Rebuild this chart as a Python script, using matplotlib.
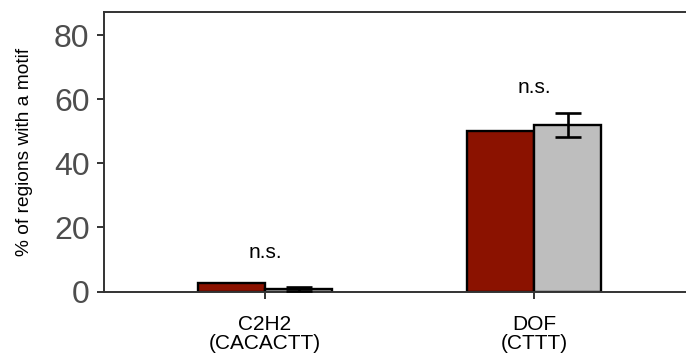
import matplotlib
matplotlib.use("Agg")
import matplotlib.pyplot as plt
import numpy as np

plt.rcParams['font.family'] = ['Liberation Sans', 'DejaVu Sans']

categories = ["C2H2\n(CACACTT)", "DOF\n(CTTT)"]
group_a = [2.6, 50.0]          # dark red bars
group_b = [0.9, 52.0]          # grey bars
group_b_err = [0.6, 3.7]
sig_labels = ["n.s.", "n.s."]
sig_y = [12.3, 63.6]
yticks = [0, 20, 40, 60, 80]

W, H = 686, 358
fig = plt.figure(figsize=(W / 100, H / 100), dpi=100)
x0, x1 = 103.5, 695.3
y_top, y_bot = 12.0, 291.5
ax = fig.add_axes([x0 / W, (H - y_bot) / H, (x1 - x0) / W, (y_bot - y_top) / H])

x = np.arange(1, len(categories) + 1)
bw = 0.25
ax.bar(x - bw / 2, group_a, width=bw, color="#8B1200", edgecolor="black",
       linewidth=1.7, zorder=2)
ax.bar(x + bw / 2, group_b, width=bw, color="#BEBEBE", edgecolor="black",
       linewidth=1.7, zorder=2)
ax.errorbar(x + bw / 2, group_b, yerr=group_b_err, fmt="none", ecolor="black",
            elinewidth=1.9, capsize=9.4, capthick=1.9, zorder=3)

for xi, lab, yy in zip(x, sig_labels, sig_y):
    ax.text(xi, yy, lab, ha="center", va="center", fontsize=15, color="black")

ax.set_xlim(0.4, 2.6)
ax.set_ylim(0, 87.3)
ax.set_xticks(x)
ax.set_xticklabels(categories, fontsize=15, color="black", linespacing=1.0)
ax.set_yticks(yticks)
ax.set_yticklabels([str(v) for v in yticks], fontsize=23, color="#4D4D4D")
ax.set_ylabel("% of regions with a motif", fontsize=13.8, color="black", labelpad=15)

for s in ax.spines.values():
    s.set_color("#333333")
    s.set_linewidth(1.4)
ax.tick_params(axis="both", color="#333333", width=1.4, length=5)
ax.tick_params(axis="y", pad=5)
ax.tick_params(axis="x", pad=12)

fig.savefig("out.png", dpi=100)
